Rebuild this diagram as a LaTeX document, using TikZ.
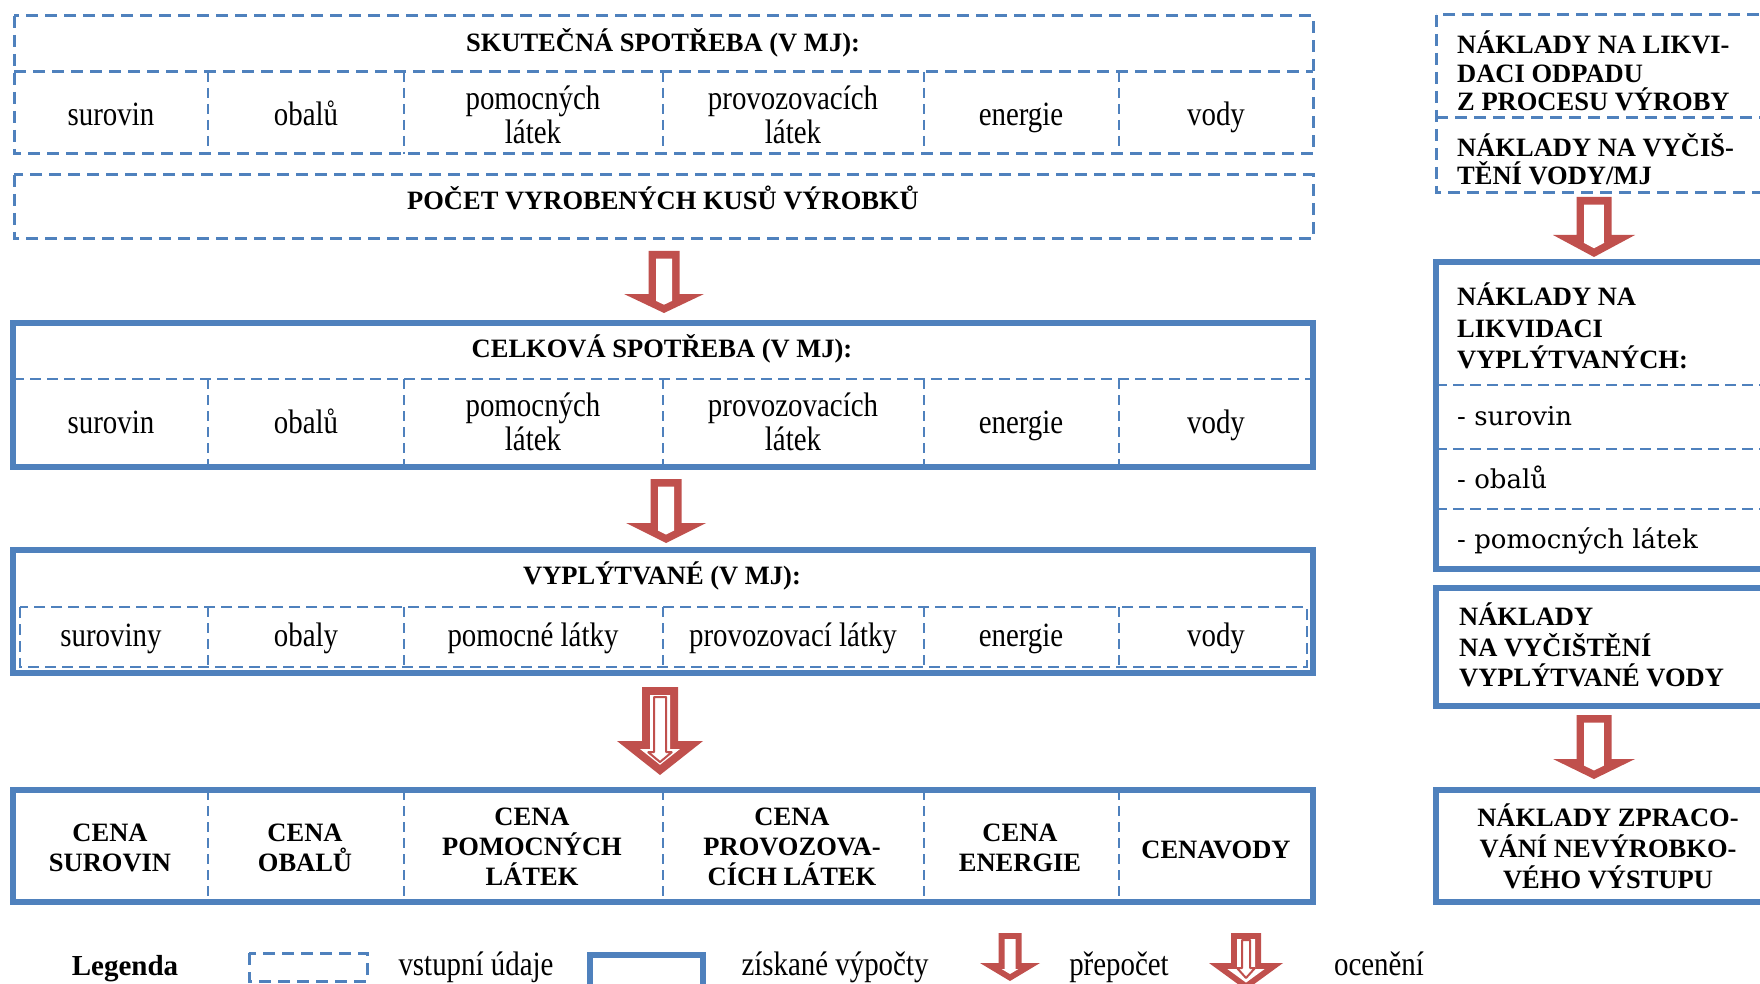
\documentclass[tikz,border=0pt]{standalone}
\usepackage{fontspec}
\setmainfont{Liberation Serif}
\newfontfamily\condfont[FakeStretch=0.85]{Liberation Serif}
\newfontfamily\listfont{DejaVu Serif}
\definecolor{bl}{HTML}{4F81BD}
\definecolor{rd}{HTML}{C0504D}

% block arrow: cx, top, wing y, tip, shaft half, head half, outline thickness
\newcommand\blockarr[7]{%
  \pgfmathsetmacro\baL{#4-#3}%
  \pgfmathsetmacro\baK{#7*sqrt(1+(\baL/#6)^2)}%
  \pgfmathsetmacro\baTip{#4-\baK}%
  \pgfmathsetmacro\baS{#5-#7}%
  \pgfmathsetmacro\baY{\baTip-\baS*\baL/#6}%
  \pgfmathsetmacro\baYa{min(#3+#7,\baY)}%
  \pgfmathsetmacro\baW{max(\baS,(\baTip-#3-#7)*#6/\baL)}%
  \pgfmathsetmacro\baYb{\baTip-\baW*\baL/#6}%
  \fill[rd] (#1-#5,#2) -- (#1+#5,#2) -- (#1+#5,#3) -- (#1+#6,#3) -- (#1,#4) -- (#1-#6,#3) -- (#1-#5,#3) -- cycle;
  \fill[white] (#1-\baS,#2+#7) -- (#1+\baS,#2+#7) -- (#1+\baS,\baYa) -- (#1+\baW,\baYb) -- (#1,\baTip) -- (#1-\baW,\baYb) -- (#1-\baS,\baYa) -- cycle;
}
% thin inner arrow outline: cx, top, wing y, tip, shaft half, head half
\newcommand\thinarr[6]{%
  \draw[rd, line width=2pt, fill=white, line join=bevel] (#1-#5,#2) -- (#1+#5,#2) -- (#1+#5,#3) -- (#1+#6,#3) -- (#1,#4) -- (#1-#6,#3) -- (#1-#5,#3) -- cycle;
}

\begin{document}
\begin{tikzpicture}[x=1pt,y=-1pt,
  dbox/.style={draw=bl, line width=3pt, dash pattern=on 12pt off 7pt},
  sbox/.style={draw=bl, line width=6pt},
  dsep/.style={draw=bl, line width=2.5pt, dash pattern=on 11pt off 6pt},
  dcol/.style={draw=bl, line width=2pt, dash pattern=on 10pt off 6pt},
  reg/.style={font=\condfont\fontsize{34}{34}\selectfont, inner sep=0pt, text height=16pt, text depth=0pt},
  regml/.style={font=\condfont\fontsize{34}{34}\selectfont, inner sep=0pt, align=center},
  hd/.style={font=\bfseries\fontsize{26.5}{30}\selectfont, inner sep=0pt, text height=18pt, text depth=0pt},
  hdml/.style={font=\bfseries\fontsize{26.5}{30}\selectfont, inner sep=0pt, align=center},
  rml/.style={font=\bfseries\fontsize{26.5}{#1}\selectfont, inner sep=0pt, align=left, anchor=west},
  lst/.style={font=\listfont\fontsize{26}{30}\selectfont, inner sep=0pt, text height=14pt, text depth=0pt, anchor=west}
]
\fill[white] (0,0) rectangle (1760,984);
\useasboundingbox (0,0) rectangle (1760,984);

% ---------- left column ----------
% skutecna spotreba
\draw[dbox] (14,16) rectangle (1313,154);
\draw[dbox] (14,72) -- (1313,72);
\foreach \x in {208,404,663,924,1119} \draw[dcol] (\x,72) -- (\x,154);
\node[hd] (t1) at (663,43) {SKUTEČNÁ SPOTŘEBA (V MJ):};
\node[reg] (a1) at (111,118) {surovin};
\node[reg] (a2) at (306,118) {obalů};
\node[regml] (a3) at (533,115) {pomocných\\látek};
\node[regml] (a4) at (793,115) {provozovacích\\látek};
\node[reg] (a5) at (1021,118) {energie};
\node[reg] (a6) at (1216,118) {vody};

% pocet
\draw[dbox] (14,175) rectangle (1313,239);
\node[hd] (pocet) at (663,201) {POČET VYROBENÝCH KUSŮ VÝROBKŮ};

\blockarr{664}{251}{294}{313}{15.5}{40}{7.5}

% celkova spotreba
\draw[sbox] (13,323) rectangle (1313,467);
\draw[dsep] (13,379) -- (1313,379);
\foreach \x in {208,404,663,924,1119} \draw[dcol] (\x,379) -- (\x,467);
\node[hd] (t2) at (662,348) {CELKOVÁ SPOTŘEBA (V MJ):};
\node[reg] (b1) at (111,425) {surovin};
\node[reg] (b2) at (306,425) {obalů};
\node[regml] (b3) at (533,421.5) {pomocných\\látek};
\node[regml] (b4) at (793,421.5) {provozovacích\\látek};
\node[reg] (b5) at (1021,425) {energie};
\node[reg] (b6) at (1216,425) {vody};

\blockarr{666}{479}{523}{543}{15.5}{40}{7.5}

% vyplytvane
\draw[sbox] (13,550) rectangle (1313,673);
\draw[dsep] (20,607) rectangle (1307,667);
\foreach \x in {208,404,663,924,1119} \draw[dcol] (\x,607) -- (\x,667);
\node[hd] (t3) at (662,575) {VYPLÝTVANÉ (V MJ):};
\node[reg] (c1) at (111,638) {suroviny};
\node[reg] (c2) at (306,638) {obaly};
\node[reg] (c3) at (533,638) {pomocné látky};
\node[reg] (c4) at (793,638) {provozovací látky};
\node[reg] (c5) at (1021,638) {energie};
\node[reg] (c6) at (1216,638) {vody};

\blockarr{660}{687}{741}{775}{18}{43}{8}
\thinarr{660}{697}{752}{762}{6}{12}

% ceny
\draw[sbox] (13,790) rectangle (1313,902);
\foreach \x in {208,404,663,924,1119} \draw[dcol] (\x,790) -- (\x,902);
\node[hdml] (d1) at (110,848) {CENA\\SUROVIN};
\node[hdml] (d2) at (305,848) {CENA\\OBALŮ};
\node[hdml] (d3) at (532,847) {CENA\\POMOCNÝCH\\LÁTEK};
\node[hdml] (d4) at (792,847) {CENA\\PROVOZOVA-\\CÍCH LÁTEK};
\node[hdml] (d5) at (1020,848) {CENA\\ENERGIE};
\node[hd] (d6) at (1216,849) {CENAVODY};

% ---------- right column ----------
\draw[dbox] (1436,15) rectangle (1790,193);
\draw[dbox] (1436,118) -- (1790,118);
\node[rml=28.5] (r1) at (1457,71) {NÁKLADY NA LIKVI-\\DACI ODPADU\\Z PROCESU VÝROBY};
\node[rml=28] (r2) at (1457,159) {NÁKLADY NA VYČIŠ-\\TĚNÍ VODY/MJ};

\blockarr{1594}{197}{235}{257}{17.5}{41}{7.7}

\draw[sbox] (1436,262) rectangle (1790,569);
\foreach \y in {385,449,509} \draw[dsep] (1436,\y) -- (1790,\y);
\node[rml=31.5] (r3) at (1457,326) {NÁKLADY NA\\LIKVIDACI\\VYPLÝTVANÝCH:};
\node[lst] (l1) at (1457,418) {- surovin};
\node[lst] (l2) at (1457,481) {- obalů};
\node[lst] (l3) at (1457,541) {- pomocných látek};

\draw[sbox] (1436,588) rectangle (1790,706);
\node[rml=30.5] (r4) at (1459,645) {NÁKLADY\\NA VYČIŠTĚNÍ\\VYPLÝTVANÉ VODY};

\blockarr{1594}{715}{759}{779}{17.5}{41}{7.7}

\draw[sbox] (1436,790) rectangle (1790,902);
\node[hdml, font=\bfseries\fontsize{26.5}{31}\selectfont] (r5) at (1608,846) {NÁKLADY ZPRACO-\\VÁNÍ NEVÝROBKO-\\VÉHO VÝSTUPU};

% ---------- legend ----------
\node[hd, font=\bfseries\fontsize{29}{30}\selectfont] (lg) at (125,966) {Legenda};
\draw[dbox] (249,953) rectangle (367,981);
\node[reg] (lg1) at (476,967) {vstupní údaje};
\draw[sbox] (590,955) rectangle (703,990);
\node[reg] (lg2) at (835,967) {získané výpočty};
\blockarr{1010}{933}{963}{981}{11.5}{30}{6}
\node[reg] (lg3) at (1119,967) {přepočet};
\blockarr{1246}{933}{963}{990}{15}{37}{6}
\thinarr{1246}{940}{968}{978}{4}{9}
\node[reg] (lg4) at (1379,967) {ocenění};
\end{tikzpicture}
\end{document}
